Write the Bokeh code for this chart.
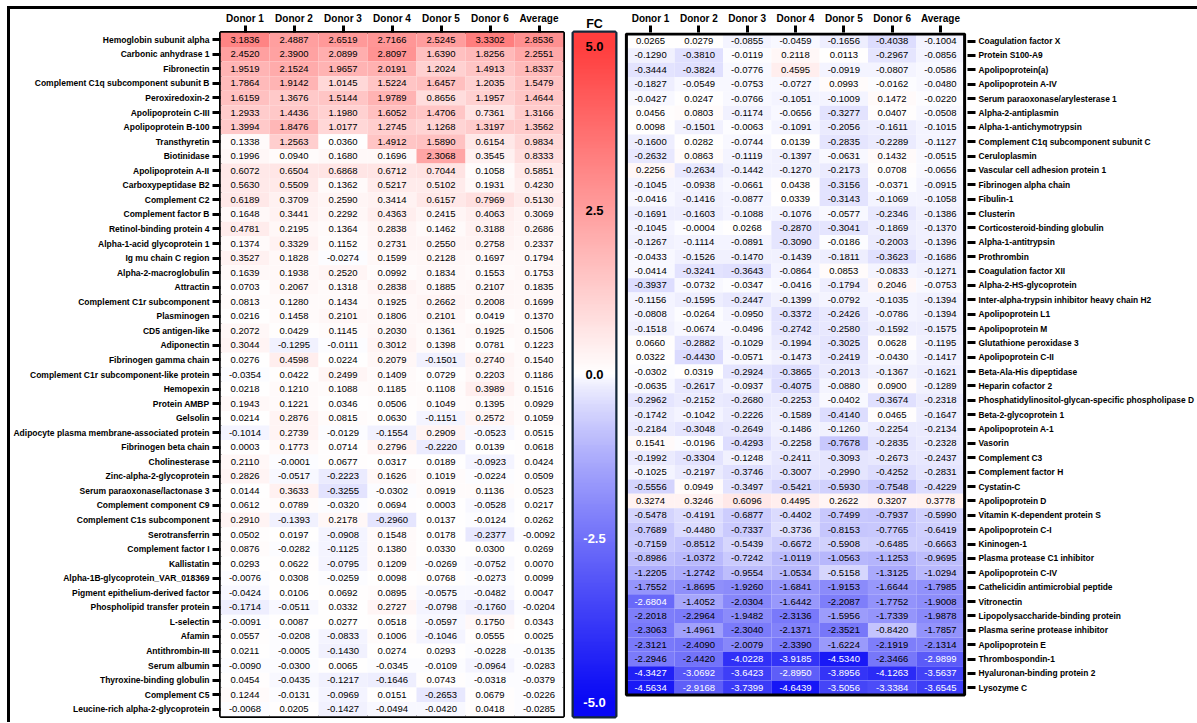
import numpy as np
from bokeh.plotting import figure
from bokeh.models import ColumnDataSource, FactorRange, LinearColorMapper, Range1d, FixedTicker
from bokeh.layouts import row
from bokeh.embed import file_html
from bokeh.resources import INLINE
from bokeh.core.properties import value

columns = ["Donor 1", "Donor 2", "Donor 3", "Donor 4", "Donor 5", "Donor 6", "Average"]

left_proteins = [
    "Hemoglobin subunit alpha", "Carbonic anhydrase 1", "Fibronectin",
    "Complement C1q subcomponent subunit B", "Peroxiredoxin-2", "Apolipoprotein C-III",
    "Apolipoprotein B-100", "Transthyretin", "Biotinidase", "Apolipoprotein A-II",
    "Carboxypeptidase B2", "Complement C2", "Complement factor B", "Retinol-binding protein 4",
    "Alpha-1-acid glycoprotein 1", "Ig mu chain C region", "Alpha-2-macroglobulin", "Attractin",
    "Complement C1r subcomponent", "Plasminogen", "CD5 antigen-like", "Adiponectin",
    "Fibrinogen gamma chain", "Complement C1r subcomponent-like protein", "Hemopexin",
    "Protein AMBP", "Gelsolin", "Adipocyte plasma membrane-associated protein",
    "Fibrinogen beta chain", "Cholinesterase", "Zinc-alpha-2-glycoprotein",
    "Serum paraoxonase/lactonase 3", "Complement component C9", "Complement C1s subcomponent",
    "Serotransferrin", "Complement factor I", "Kallistatin", "Alpha-1B-glycoprotein_VAR_018369",
    "Pigment epithelium-derived factor", "Phospholipid transfer protein", "L-selectin",
    "Afamin", "Antithrombin-III", "Serum albumin", "Thyroxine-binding globulin",
    "Complement C5", "Leucine-rich alpha-2-glycoprotein",
]
left_donor1 = [3.1836, 2.4520, 1.9519, 1.7864, 1.6159, 1.2933, 1.3994, 0.1338, 0.1996, 0.6072,
               0.5630, 0.6189, 0.1648, 0.4781, 0.1374, 0.3527, 0.1639, 0.0703, 0.0813, 0.0216,
               0.2072, 0.3044, 0.0276, -0.0354, 0.0218, 0.1943, 0.0214, -0.1014, 0.0003, 0.2110,
               0.2826, 0.0144, 0.0612, 0.2910, 0.0502, 0.0876, 0.0293, -0.0076, -0.0424, -0.1714,
               -0.0091, 0.0557, 0.0211, -0.0090, 0.0454, 0.1244, -0.0068]
left_donor2 = [2.4887, 2.3900, 2.1524, 1.9142, 1.3676, 1.4436, 1.8476, 1.2563, 0.0940, 0.6504,
               0.5509, 0.3709, 0.3441, 0.2195, 0.3329, 0.1828, 0.1938, 0.2067, 0.1280, 0.1458,
               0.0429, -0.1295, 0.4598, 0.0422, 0.1210, 0.1221, 0.2876, 0.2739, 0.1773, -0.0001,
               -0.0517, 0.3633, 0.0789, -0.1393, 0.0197, -0.0282, 0.0622, 0.0308, 0.0106, -0.0511,
               0.0087, -0.0208, -0.0005, -0.0300, -0.0435, -0.0131, 0.0205]
left_donor3 = [2.6519, 2.0899, 1.9657, 1.0145, 1.5144, 1.1980, 1.0177, 0.0360, 0.1680, 0.6868,
               0.1362, 0.2590, 0.2292, 0.1364, 0.1152, -0.0274, 0.2520, 0.1318, 0.1434, 0.2101,
               0.1145, -0.0111, 0.0224, 0.2499, 0.1088, 0.0346, 0.0815, -0.0129, 0.0714, 0.0677,
               -0.2223, -0.3255, -0.0320, 0.2178, -0.0908, -0.1125, -0.0795, -0.0259, 0.0692, 0.0332,
               0.0277, -0.0833, -0.1430, 0.0065, -0.1217, -0.0969, -0.1427]
left_donor4 = [2.7166, 2.8097, 2.0191, 1.5224, 1.9789, 1.6052, 1.2745, 1.4912, 0.1696, 0.6712,
               0.5217, 0.3414, 0.4363, 0.2838, 0.2731, 0.1599, 0.0992, 0.2838, 0.1925, 0.1806,
               0.2030, 0.3012, 0.2079, 0.1409, 0.1185, 0.0506, 0.0630, -0.1554, 0.2796, 0.0317,
               0.1626, -0.0302, 0.0694, -0.2960, 0.1548, 0.1380, 0.1209, 0.0098, 0.0895, 0.2727,
               0.0518, 0.1006, 0.0274, -0.0345, -0.1646, 0.0151, -0.0494]
left_donor5 = [2.5245, 1.6390, 1.2024, 1.6457, 0.8656, 1.4706, 1.1268, 1.5890, 2.3068, 0.7044,
               0.5102, 0.6157, 0.2415, 0.1462, 0.2550, 0.2128, 0.1834, 0.1885, 0.2662, 0.2101,
               0.1361, 0.1398, -0.1501, 0.0729, 0.1108, 0.1049, -0.1151, 0.2909, -0.2220, 0.0189,
               0.1019, 0.0919, 0.0003, 0.0137, 0.0178, 0.0330, -0.0269, 0.0768, -0.0575, -0.0798,
               -0.0597, -0.1046, 0.0293, -0.0109, 0.0743, -0.2653, -0.0420]
left_donor6 = [3.3302, 1.8256, 1.4913, 1.2035, 1.1957, 0.7361, 1.3197, 0.6154, 0.3545, 0.1058,
               0.1931, 0.7969, 0.4063, 0.3188, 0.2758, 0.1697, 0.1553, 0.2107, 0.2008, 0.0419,
               0.1925, 0.0781, 0.2740, 0.2203, 0.3989, 0.1395, 0.2572, -0.0523, 0.0139, -0.0923,
               -0.0224, 0.1136, -0.0528, -0.0124, -0.2377, 0.0300, -0.0752, -0.0273, -0.0482, -0.1760,
               0.1750, 0.0555, -0.0228, -0.0964, -0.0318, 0.0679, 0.0418]
left_average = [2.8536, 2.2551, 1.8337, 1.5479, 1.4644, 1.3166, 1.3562, 0.9834, 0.8333, 0.5851,
                0.4230, 0.5130, 0.3069, 0.2686, 0.2337, 0.1794, 0.1753, 0.1835, 0.1699, 0.1370,
                0.1506, 0.1223, 0.1540, 0.1186, 0.1516, 0.0929, 0.1059, 0.0515, 0.0618, 0.0424,
                0.0509, 0.0523, 0.0217, 0.0262, -0.0092, 0.0269, 0.0070, 0.0099, 0.0047, -0.0204,
                0.0343, 0.0025, -0.0135, -0.0283, -0.0379, -0.0226, -0.0285]

right_proteins = [
    "Coagulation factor X", "Protein S100-A9", "Apolipoprotein(a)", "Apolipoprotein A-IV",
    "Serum paraoxonase/arylesterase 1", "Alpha-2-antiplasmin", "Alpha-1-antichymotrypsin",
    "Complement C1q subcomponent subunit C", "Ceruloplasmin", "Vascular cell adhesion protein 1",
    "Fibrinogen alpha chain", "Fibulin-1", "Clusterin", "Corticosteroid-binding globulin",
    "Alpha-1-antitrypsin", "Prothrombin", "Coagulation factor XII", "Alpha-2-HS-glycoprotein",
    "Inter-alpha-trypsin inhibitor heavy chain H2", "Apolipoprotein L1", "Apolipoprotein M",
    "Glutathione peroxidase 3", "Apolipoprotein C-II", "Beta-Ala-His dipeptidase",
    "Heparin cofactor 2", "Phosphatidylinositol-glycan-specific phospholipase D",
    "Beta-2-glycoprotein 1", "Apolipoprotein A-1", "Vasorin", "Complement C3",
    "Complement factor H", "Cystatin-C", "Apolipoprotein D", "Vitamin K-dependent protein S",
    "Apolipoprotein C-I", "Kininogen-1", "Plasma protease C1 inhibitor", "Apolipoprotein C-IV",
    "Cathelicidin antimicrobial peptide", "Vitronectin", "Lipopolysaccharide-binding protein",
    "Plasma serine protease inhibitor", "Apolipoprotein E", "Thrombospondin-1",
    "Hyaluronan-binding protein 2", "Lysozyme C",
]
right_donor1 = [0.0265, -0.1290, -0.3444, -0.1827, -0.0427, 0.0456, 0.0098, -0.1600, -0.2632, 0.2256,
                -0.1045, -0.0416, -0.1691, -0.1045, -0.1267, -0.0433, -0.0414, -0.3937, -0.1156, -0.0808,
                -0.1518, 0.0660, 0.0322, -0.0302, -0.0635, -0.2962, -0.1742, -0.2184, 0.1541, -0.1992,
                -0.1025, -0.5556, 0.3274, -0.5478, -0.7689, -0.7159, -0.8986, -1.2205, -1.7552, -2.6804,
                -2.2018, -2.3063, -2.3121, -2.2946, -4.3427, -4.5634]
right_donor2 = [0.0279, -0.3810, -0.3824, -0.0549, 0.0247, 0.0803, -0.1501, 0.0282, 0.0863, -0.2634,
                -0.0938, -0.1416, -0.1603, -0.0004, -0.1114, -0.1526, -0.3241, -0.0732, -0.1595, -0.0264,
                -0.0674, -0.2882, -0.4430, 0.0319, -0.2617, -0.2152, -0.1042, -0.3048, -0.0196, -0.3304,
                -0.2197, 0.0949, 0.3246, -0.4191, -0.4480, -0.8512, -1.0372, -1.2742, -1.8695, -1.4052,
                -2.2964, -1.4961, -2.4090, -2.4420, -3.0692, -2.9168]
right_donor3 = [-0.0855, -0.0119, -0.0776, -0.0753, -0.0766, -0.1174, -0.0063, -0.0744, -0.1119, -0.1442,
                -0.0661, -0.0877, -0.1088, 0.0268, -0.0891, -0.1470, -0.3643, -0.0347, -0.2447, -0.0950,
                -0.0496, -0.1029, -0.0571, -0.2924, -0.0937, -0.2680, -0.2226, -0.2649, -0.4293, -0.1248,
                -0.3746, -0.3497, 0.6096, -0.6877, -0.7337, -0.5439, -0.7242, -0.9554, -1.9260, -2.0304,
                -1.9482, -2.3040, -2.0079, -4.0228, -3.6423, -3.7399]
right_donor4 = [-0.0459, 0.2118, 0.4595, -0.0727, -0.1051, -0.0656, -0.1091, 0.0139, -0.1397, -0.1270,
                0.0438, 0.0339, -0.1076, -0.2870, -0.3090, -0.1439, -0.0864, -0.0416, -0.1399, -0.3372,
                -0.2742, -0.1994, -0.1473, -0.3865, -0.4075, -0.2253, -0.1589, -0.1486, -0.2258, -0.2411,
                -0.3007, -0.5421, 0.4495, -0.4402, -0.3736, -0.6672, -1.0119, -1.0534, -1.6841, -1.6442,
                -2.3136, -2.1371, -2.3390, -3.9185, -2.8950, -4.6439]
right_donor5 = [-0.1656, 0.0113, -0.0919, 0.0993, -0.1009, -0.3277, -0.2056, -0.2835, -0.0631, -0.2173,
                -0.3156, -0.3143, -0.0577, -0.3041, -0.0186, -0.1811, 0.0853, -0.1794, -0.0792, -0.2426,
                -0.2580, -0.3025, -0.2419, -0.2013, -0.0880, -0.0402, -0.4140, -0.1260, -0.7678, -0.3093,
                -0.2990, -0.5930, 0.2622, -0.7499, -0.8153, -0.5908, -1.0563, -0.5158, -1.9153, -2.2087,
                -1.5956, -2.3521, -1.6224, -4.5340, -3.8956, -3.5056]
right_donor6 = [-0.4038, -0.2967, -0.0807, -0.0162, 0.1472, 0.0407, -0.1611, -0.2289, 0.1432, 0.0708,
                -0.0371, -0.1069, -0.2346, -0.1869, -0.2003, -0.3623, -0.0833, 0.2046, -0.1035, -0.0786,
                -0.1592, 0.0628, -0.0430, -0.1367, 0.0900, -0.3674, 0.0465, -0.2254, -0.2835, -0.2673,
                -0.4252, -0.7548, 0.3207, -0.7937, -0.7765, -0.6485, -1.1253, -1.3125, -1.6644, -1.7752,
                -1.7339, -0.8420, -2.1919, -2.3466, -4.1263, -3.3384]
right_average = [-0.1004, -0.0856, -0.0586, -0.0480, -0.0220, -0.0508, -0.1015, -0.1127, -0.0515, -0.0656,
                 -0.0915, -0.1058, -0.1386, -0.1370, -0.1396, -0.1686, -0.1271, -0.0753, -0.1394, -0.1394,
                 -0.1575, -0.1195, -0.1417, -0.1621, -0.1289, -0.2318, -0.1647, -0.2134, -0.2328, -0.2437,
                 -0.2831, -0.4229, 0.3778, -0.5990, -0.6419, -0.6663, -0.9695, -1.0294, -1.7985, -1.9008,
                 -1.9878, -1.7857, -2.1314, -2.9899, -3.5637, -3.6545]

colorbar_ticks = [5.0, 2.5, 0.0, -2.5, -5.0]
colorbar_labels = ["5.0", "2.5", "0.0", "-2.5", "-5.0"]
colorbar_title = "FC"

FONT = "Liberation Sans"


# diverging palette: blue -> white -> red
def make_palette(n=256):
    lo = np.array([8, 8, 245])
    mid = np.array([255, 255, 255])
    hi = np.array([255, 62, 62])
    out = []
    for i in range(n):
        t = i / (n - 1)
        if t < 0.5:
            s = ((0.5 - t) / 0.5) ** 0.8
            c = mid + (lo - mid) * s
        else:
            s = (t - 0.5) / 0.5
            c = mid + (hi - mid) * s
        out.append("#%02x%02x%02x" % tuple(int(round(v)) for v in c))
    return out


mapper = LinearColorMapper(palette=make_palette(), low=-5, high=5)


def style_axes(p, label_size):
    for ax in p.xaxis:
        ax.major_label_text_font = FONT
        ax.major_label_text_font_style = "bold"
        ax.major_label_text_font_size = "10px"
        ax.major_label_text_color = "black"
        ax.major_tick_line_width = 3
        ax.major_tick_line_color = "black"
        ax.major_tick_out = 7
        ax.major_tick_in = 0
        ax.axis_line_color = None
        ax.major_label_standoff = 2
    for ax in p.yaxis:
        ax.major_label_text_font = FONT
        ax.major_label_text_font_style = "bold"
        ax.major_label_text_font_size = label_size
        ax.major_label_text_color = "black"
        ax.major_tick_line_width = 3
        ax.major_tick_line_color = "black"
        ax.major_tick_out = 8
        ax.major_tick_in = 0
        ax.minor_tick_line_color = None
        ax.axis_line_color = None
        ax.major_label_standoff = 3


def cells_source(proteins, series, ykey):
    xs, ys, vals, labels, tcolors = [], [], [], [], []
    for col, vlist in zip(columns, series):
        for i, (prot, v) in enumerate(zip(proteins, vlist)):
            xs.append(col)
            ys.append(prot if ykey == "name" else i)
            vals.append(v)
            labels.append(f"{v:.4f}")
            tcolors.append("white" if v < -2.5 else "black")
    return ColumnDataSource(dict(x=xs, y=ys, v=vals, label=labels, tc=tcolors))


def draw_cells(p, src):
    p.rect(x="x", y="y", width=1, height=1, source=src,
           fill_color={"field": "v", "transform": mapper}, line_color=None)
    p.text(x="x", y="y", text="label", source=src, text_align="center",
           text_baseline="middle", text_font_size="9.5px", text_color="tc",
           text_font=value(FONT))
    p.grid.visible = False
    p.background_fill_color = "white"


H = 713
BORDERS = dict(min_border_top=23, min_border_bottom=6)

# ---- left heatmap (categorical rows)
left = figure(x_range=FactorRange(*columns), y_range=FactorRange(*reversed(left_proteins)),
              width=557, height=H, x_axis_location="above", y_axis_location="left",
              output_backend="svg", toolbar_location=None, tools="",
              min_border_left=209, min_border_right=4, **BORDERS)
draw_cells(left, cells_source(left_proteins,
                              [left_donor1, left_donor2, left_donor3, left_donor4,
                               left_donor5, left_donor6, left_average], "name"))
left.outline_line_color = "black"
left.outline_line_width = 3
left.outline_line_alpha = 1
style_axes(left, "8.5px")

# ---- colour bar
span = 5.21
cb = figure(width=52, height=H, x_range=Range1d(0, 1), y_range=Range1d(-span, span),
            output_backend="svg", toolbar_location=None, tools="",
            min_border_left=6, min_border_right=4, title=colorbar_title, **BORDERS)
cb.axis.visible = False
cb.grid.visible = False
grad = np.linspace(-span, span, 500).reshape(-1, 1)
cb.image(image=[grad], x=0, y=-span, dw=1, dh=2 * span, color_mapper=mapper)
cb_src = ColumnDataSource(dict(
    x=[0.5] * len(colorbar_ticks), y=colorbar_ticks, text=colorbar_labels,
    c=["black" if t > -1 else "white" for t in colorbar_ticks]))
cb.text(x="x", y="y", text="text", source=cb_src, text_align="center", text_baseline="middle",
        text_font_size="13px", text_font_style="bold", text_color="c", text_font=value(FONT))
cb.outline_line_color = "#14283a"
cb.outline_line_width = 4
cb.outline_line_alpha = 1
cb.title.align = "center"
cb.title.text_font = FONT
cb.title.text_font_size = "12.5px"
cb.title.text_font_style = "bold"
cb.title.text_color = "black"
cb.title.standoff = 4
cb.title.offset = 0

# ---- right heatmap (indexed rows, shorter block than the frame)
n_right = len(right_proteins)
edge = 0.1          # small inset so the block border is not clipped (row units)
blank_below = 1.5   # empty space under the block, in row heights
right = figure(x_range=FactorRange(*columns, range_padding=0.06, range_padding_units="absolute"),
               y_range=Range1d(n_right - 0.5 + blank_below, -0.5 - edge),
               width=578, height=H, x_axis_location="above", y_axis_location="right",
               output_backend="svg", toolbar_location=None, tools="",
               min_border_left=4, min_border_right=230, **BORDERS)
draw_cells(right, cells_source(right_proteins,
                               [right_donor1, right_donor2, right_donor3, right_donor4,
                                right_donor5, right_donor6, right_average], "index"))
right.outline_line_color = None
# block border around the cells, sized from the data
right.rect(x=len(columns) / 2, y=(n_right - 1) / 2, width=len(columns), height=n_right,
           fill_color=None, line_color="black", line_width=3)
right.yaxis.ticker = FixedTicker(ticks=list(range(n_right)))
right.yaxis.major_label_overrides = {i: name for i, name in enumerate(right_proteins)}
style_axes(right, "8.4px")

layout = row(left, cb, right, spacing=0,
             styles={"margin-top": "6px", "margin-left": "7px",
                     "border-top": "3px solid black", "border-left": "3px solid black"})

open("out.html", "w").write(file_html(layout, INLINE))
